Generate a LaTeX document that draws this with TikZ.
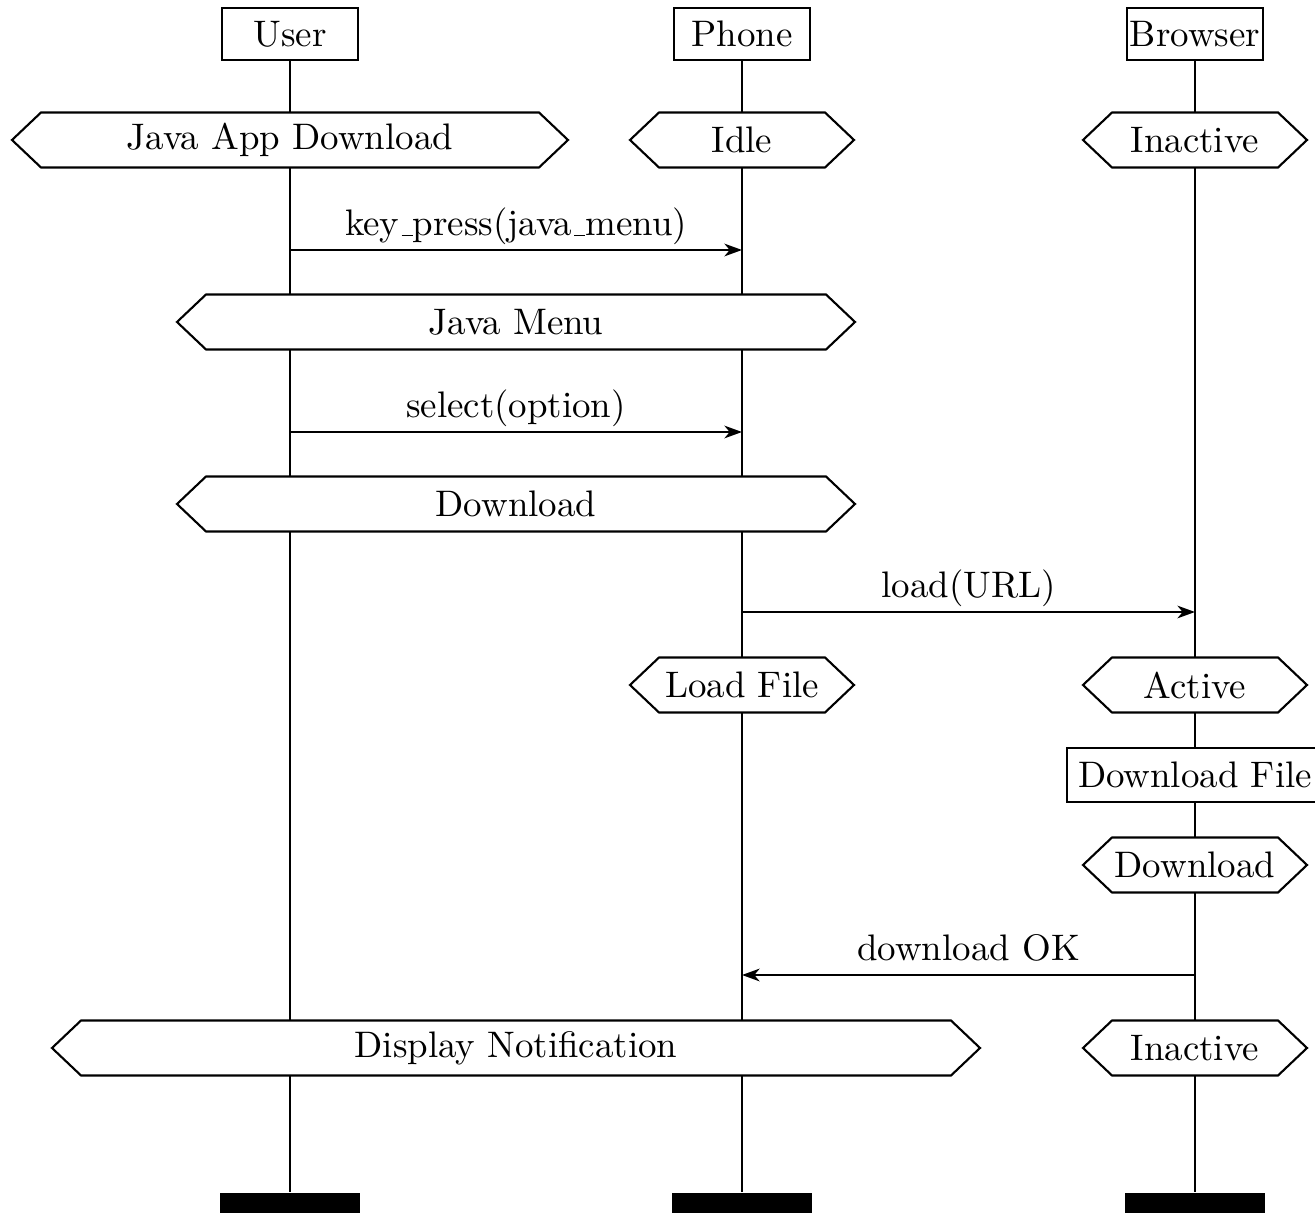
\documentclass[tikz,border=0pt]{standalone}
\usetikzlibrary{arrows.meta}

% condition symbol: a flat hexagon with a centred, named label node
% #1 name, #2 centre x, #3 centre y, #4 half width (tip to tip), #5 text
\newcommand\hexcond[5]{%
  \draw[cond] ({#2-#4},{#3}) -- ({#2-#4+29},{#3-27.5}) -- ({#2+#4-29},{#3-27.5})
     -- ({#2+#4},{#3}) -- ({#2+#4-29},{#3+27.5}) -- ({#2-#4+29},{#3+27.5}) -- cycle;
  \node[condtext] (#1) at ({#2},{#3}) {#5};
}
% short low rule used as underscore in message names
\newcommand\lowus{\leavevmode\kern.06em\vbox{\hrule width.3em}}

\begin{document}
\begin{tikzpicture}[x=0.01cm,y=-0.01cm,
  every node/.style={font=\fontsize{10.5}{12.6}\selectfont},
  inst/.style={draw, line width=0.6pt, fill=white, minimum width=1.36cm,
               minimum height=0.52cm, inner sep=0pt},
  endbar/.style={fill=black, minimum width=1.4cm, minimum height=0.22cm, inner sep=0pt},
  life/.style={line width=0.6pt},
  cond/.style={draw, line width=0.6pt, fill=white, line join=miter},
  condtext/.style={inner sep=0pt},
  action/.style={draw, line width=0.6pt, fill=white, minimum width=2.56cm,
                 minimum height=0.54cm, inner sep=0pt},
  msg/.style={line width=0.6pt, -{Stealth[length=5pt,width=3.6pt,inset=1.5pt]}},
  msglabel/.style={anchor=base, yshift=0.14cm, inner sep=0pt}
]
\useasboundingbox (0,0) rectangle (1315,1213);

% instance heads and ends
\node[inst] (user)    at (290,34)  {User};
\node[inst] (phone)   at (742,34)  {Phone};
\node[inst] (browser) at (1195,34) {Browser};
\node[endbar] (userend)    at (290,1204)  {};
\node[endbar] (phoneend)   at (742,1204)  {};
\node[endbar] (browserend) at (1195,1204) {};

% lifelines
\draw[life] (user) -- (userend);
\draw[life] (phone) -- (phoneend);
\draw[life] (browser) -- (browserend);

% conditions
\hexcond{c1}{290}{140}{278}{Java App Download}
\hexcond{c2}{742}{140}{112}{Idle}
\hexcond{c3}{1195}{140}{112}{Inactive}
\hexcond{c4}{516}{322}{339}{Java Menu}
\hexcond{c5}{516}{504}{339}{Download}
\hexcond{c6}{742}{685}{112}{Load File}
\hexcond{c7}{1195}{685}{112}{Active}
\node[action] (dlfile) at (1195,775) {Download File};
\hexcond{c8}{1195}{865}{112}{Download}
\hexcond{c9}{516}{1048}{464}{Display Notification}
\hexcond{c10}{1195}{1048}{112}{Inactive}

% message end points on the lifelines
\coordinate (u1) at (290,250);  \coordinate (p1) at (742,250);
\coordinate (u2) at (290,432);  \coordinate (p2) at (742,432);
\coordinate (p3) at (742,612);  \coordinate (b3) at (1195,612);
\coordinate (b4) at (1195,975); \coordinate (p4) at (742,975);

% messages
\draw[msg] (u1) -- (p1) node[msglabel, midway] {key\lowus press(java\lowus menu)};
\draw[msg] (u2) -- (p2) node[msglabel, midway] {select(option)};
\draw[msg] (p3) -- (b3) node[msglabel, midway] {load(URL)};
\draw[msg] (b4) -- (p4) node[msglabel, midway] {download OK};
\end{tikzpicture}
\end{document}
